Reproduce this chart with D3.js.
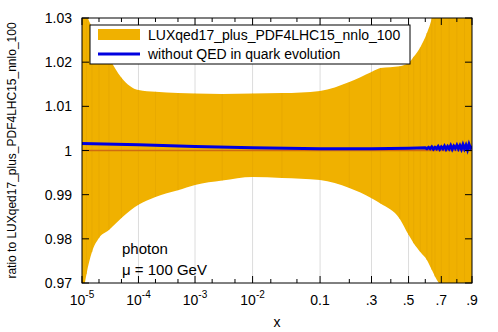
<!DOCTYPE html>
<html>
<head>
<meta charset="utf-8">
<script src="https://cdn.jsdelivr.net/npm/d3@7"></script>
<style>
  body { margin: 0; background: #fff; }
  text { font-family: "Liberation Sans", Arial, Helvetica, sans-serif; }
</style>
</head>
<body>
<script>
// values
var bandX     = [1e-5, 1.2e-5, 1.5e-5, 2e-5, 3e-5, 5e-5, 1e-4, 2e-4, 5e-4, 1e-3, 3e-3, 1e-2, 3e-2, 0.1, 0.2, 0.3, 0.345, 0.45, 0.5, 0.53, 0.57, 0.61, 0.64, 0.66, 0.7, 0.75, 0.8, 0.85, 0.9];
var bandUpper = [1.036, 1.031, 1.028, 1.0255, 1.021, 1.0165, 1.0137, 1.0133, 1.013, 1.0129, 1.0128, 1.0129, 1.013, 1.0135, 1.0155, 1.0178, 1.0187, 1.0191, 1.0198, 1.0212, 1.0234, 1.0266, 1.0300, 1.034, 1.04, 1.05, 1.06, 1.07, 1.08];
var bandLower = [0.966, 0.972, 0.977, 0.9802, 0.982, 0.9847, 0.9877, 0.9895, 0.991, 0.9922, 0.9932, 0.994, 0.9938, 0.9933, 0.9915, 0.9892, 0.988, 0.9845, 0.9809, 0.979, 0.977, 0.9752, 0.973, 0.9715, 0.969, 0.965, 0.96, 0.955, 0.95];

var noQedX = [1e-5, 1e-4, 1e-3, 1e-2, 0.1, 0.3, 0.5, 0.6, 0.61, 0.62, 0.63, 0.64, 0.65, 0.66, 0.67, 0.68, 0.69, 0.7, 0.71, 0.72, 0.73, 0.74, 0.75, 0.76, 0.77, 0.78, 0.79, 0.8, 0.81, 0.82, 0.83, 0.84, 0.85, 0.86, 0.87, 0.88, 0.89, 0.9];
var noQedY = [1.0016, 1.0013, 1.0009, 1.0006, 1.0004, 1.0004, 1.0005, 1.0006, 1.0004, 1.0007, 1.0004, 1.0008, 1.0003, 1.0007, 1.0004, 1.0009, 1.0003, 1.0008, 1.0004, 1.0010, 1.0003, 1.0009, 1.0004, 1.0011, 1.0003, 1.0010, 1.0005, 1.0012, 1.0004, 1.0011, 1.0003, 1.0013, 1.0004, 1.0012, 1.0002, 1.0014, 1.0005, 1.0010];

var xMajor = [1e-5, 1e-4, 1e-3, 1e-2, 0.1, 0.3, 0.5, 0.7, 0.9];
var xMajorLabels = [["10", "-5"], ["10", "-4"], ["10", "-3"], ["10", "-2"], ["0.1", ""], [".3", ""], [".5", ""], [".7", ""], [".9", ""]];
var xMinor = [2e-5, 5e-5, 2e-4, 5e-4, 2e-3, 5e-3, 0.02, 0.05, 0.2, 0.4, 0.6, 0.8];
var yTicks = [0.97, 0.98, 0.99, 1, 1.01, 1.02, 1.03];

var legendNames = ["LUXqed17_plus_PDF4LHC15_nnlo_100", "without QED in quark evolution"];

var width = 498, height = 332;
var pL = 82, pR = 472, pT = 18, pB = 283;

var svg = d3.select("body")
    .append("svg")
    .attr("width", width)
    .attr("height", height);

// x axis uses ln(x) + 5x
function tr(v) { return Math.log(v) + 5 * v; }
var xLin = d3.scaleLinear().domain([tr(1e-5), tr(0.9)]).range([pL, pR]);
function x(v) { return xLin(tr(v)); }
var y = d3.scaleLinear().domain([0.97, 1.03]).range([pB, pT]);

svg.append("clipPath").attr("id", "clip")
    .append("rect")
    .attr("x", pL).attr("y", pT)
    .attr("width", pR - pL).attr("height", pB - pT);

// grid
svg.append("g")
    .selectAll("line")
    .data(xMajor.slice(1, -1))
    .enter()
    .append("line")
    .attr("x1", function(d) { return x(d); })
    .attr("x2", function(d) { return x(d); })
    .attr("y1", pT).attr("y2", pB)
    .style("stroke", "#dcdcdc")
    .style("stroke-width", 1);

var plot = svg.append("g").attr("clip-path", "url(#clip)");

var band = bandX.map(function(d, i) { return {x: d, lo: bandLower[i], hi: bandUpper[i]}; });

plot.append("path")
    .datum(band)
    .attr("d", d3.area()
        .x(function(d) { return x(d.x); })
        .y0(function(d) { return y(d.lo); })
        .y1(function(d) { return y(d.hi); })
        .curve(d3.curveMonotoneX))
    .style("fill", "#f0b100")
    .style("stroke", "none");

// faint stripes of the filled curve
plot.append("g")
    .selectAll("line")
    .data(band)
    .enter()
    .append("line")
    .attr("x1", function(d) { return x(d.x); })
    .attr("x2", function(d) { return x(d.x); })
    .attr("y1", function(d) { return y(d.lo); })
    .attr("y2", function(d) { return y(d.hi); })
    .style("stroke", "#e2a400")
    .style("stroke-width", 1)
    .style("opacity", 0.5);

// central line of the band
plot.append("line")
    .attr("x1", pL).attr("x2", pR)
    .attr("y1", y(1)).attr("y2", y(1))
    .style("stroke", "#cf6c10")
    .style("stroke-width", 1.5);

plot.append("path")
    .datum(noQedX.map(function(d, i) { return [d, noQedY[i]]; }))
    .attr("d", d3.line()
        .x(function(d) { return x(d[0]); })
        .y(function(d) { return y(d[1]); }))
    .style("fill", "none")
    .style("stroke", "#0000e0")
    .style("stroke-width", 3);

// frame
svg.append("rect")
    .attr("x", pL).attr("y", pT)
    .attr("width", pR - pL).attr("height", pB - pT)
    .style("fill", "none")
    .style("stroke", "black")
    .style("stroke-width", 1);

// ticks, inward on all four sides
var ticks = svg.append("g").style("stroke", "black").style("stroke-width", 1);
function xTicks(vals, len) {
    vals.forEach(function(v) {
        ticks.append("line").attr("x1", x(v)).attr("x2", x(v)).attr("y1", pB).attr("y2", pB - len);
        ticks.append("line").attr("x1", x(v)).attr("x2", x(v)).attr("y1", pT).attr("y2", pT + len);
    });
}
xTicks(xMajor, 7);
xTicks(xMinor, 4);
yTicks.forEach(function(v) {
    ticks.append("line").attr("x1", pL).attr("x2", pL + 7).attr("y1", y(v)).attr("y2", y(v));
    ticks.append("line").attr("x1", pR).attr("x2", pR - 7).attr("y1", y(v)).attr("y2", y(v));
});

// tick labels
svg.append("g")
    .selectAll("text")
    .data(yTicks)
    .enter()
    .append("text")
    .attr("x", 72)
    .attr("y", function(d) { return y(d) + 5; })
    .attr("text-anchor", "end")
    .style("font-size", "14px")
    .text(function(d) { return d3.format("")(d); });

var xl = svg.append("g")
    .selectAll("text")
    .data(xMajor)
    .enter()
    .append("text")
    .attr("x", function(d) { return x(d); })
    .attr("y", 305)
    .attr("text-anchor", "middle")
    .style("font-size", "14px");
xl.append("tspan").text(function(d, i) { return xMajorLabels[i][0]; });
xl.append("tspan")
    .attr("dy", -7)
    .style("font-size", "10px")
    .text(function(d, i) { return xMajorLabels[i][1]; });

svg.append("text")
    .attr("x", (pL + pR) / 2)
    .attr("y", 327)
    .attr("text-anchor", "middle")
    .style("font-size", "14px")
    .text("x");

svg.append("text")
    .attr("transform", "translate(16," + ((pT + pB) / 2) + ") rotate(-90)")
    .attr("text-anchor", "middle")
    .style("font-size", "12px")
    .text("ratio to LUXqed17_plus_PDF4LHC15_nnlo_100");

// legend
var legend = svg.append("g");
legend.append("rect")
    .attr("x", 90).attr("y", 25)
    .attr("width", 320).attr("height", 39)
    .style("fill", "white")
    .style("stroke", "black")
    .style("stroke-width", 1);
legend.append("rect")
    .attr("x", 98).attr("y", 29)
    .attr("width", 42).attr("height", 11)
    .style("fill", "#f0b100");
legend.append("line")
    .attr("x1", 98).attr("x2", 140)
    .attr("y1", 54).attr("y2", 54)
    .style("stroke", "#0000e0")
    .style("stroke-width", 3);
legend.selectAll("text.name")
    .data(legendNames)
    .enter()
    .append("text")
    .attr("x", 148)
    .attr("y", function(d, i) { return 40 + i * 19; })
    .style("font-size", "14px")
    .text(function(d) { return d; });

// labels inside the plot
svg.append("text").attr("x", 122).attr("y", 254).style("font-size", "15px").text("photon");
svg.append("text").attr("x", 122).attr("y", 275).style("font-size", "15px").text("\u03bc = 100 GeV");
</script>
</body>
</html>
